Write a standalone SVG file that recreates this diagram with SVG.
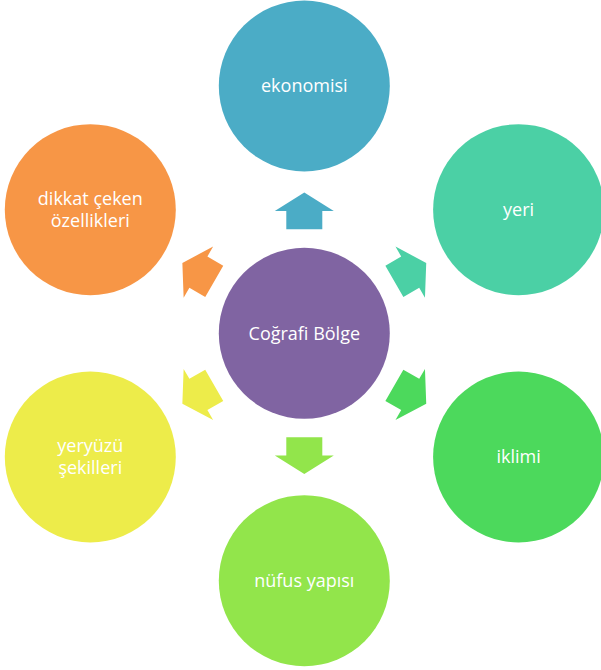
<svg xmlns="http://www.w3.org/2000/svg" width="601" height="670" viewBox="0 0 601 670">
<style>
.lbl{font-family:"Open Sans","Noto Sans","Liberation Sans",sans-serif;font-size:18px;fill:#ffffff;text-anchor:middle}
</style>
<defs>
<path id="arr" d="M -18,-104 L 18,-104 L 18,-122.3 L 29.5,-122.3 L 0,-140.8 L -29.5,-122.3 L -18,-122.3 Z"/>
</defs>
<rect width="601" height="670" fill="#ffffff"/>
<g id="connectors" transform="translate(304.3,333.3)">
<use href="#arr" fill="#4BACC6"/>
<use href="#arr" fill="#4BD0A5" transform="rotate(60)"/>
<use href="#arr" fill="#4CD95C" transform="rotate(120)"/>
<use href="#arr" fill="#92E54B" transform="rotate(180)"/>
<use href="#arr" fill="#EDEC4A" transform="rotate(240)"/>
<use href="#arr" fill="#F79646" transform="rotate(300)"/>
</g>
<g id="center">
<circle cx="304.3" cy="333.3" r="85.5" fill="#8064A2"/>
<text class="lbl" x="304.3" y="339.5">Coğrafi Bölge</text>
</g>
<g id="ekonomisi">
<circle cx="304.3" cy="86" r="85.5" fill="#4BACC6"/>
<text class="lbl" x="304.3" y="92.2">ekonomisi</text>
</g>
<g id="yeri">
<circle cx="518.6" cy="209.7" r="85.5" fill="#4BD0A5"/>
<text class="lbl" x="518.6" y="215.9">yeri</text>
</g>
<g id="iklimi">
<circle cx="518.6" cy="457" r="85.5" fill="#4CD95C"/>
<text class="lbl" x="518.6" y="463.2">iklimi</text>
</g>
<g id="nufus">
<circle cx="304.3" cy="580.7" r="85.5" fill="#92E54B"/>
<text class="lbl" x="304.3" y="586.9">nüfus yapısı</text>
</g>
<g id="yeryuzu">
<circle cx="90.3" cy="457" r="85.5" fill="#EDEC4A"/>
<text class="lbl" x="90.3" y="452.2">yeryüzü</text>
<text class="lbl" x="90.3" y="474.2">şekilleri</text>
</g>
<g id="dikkat">
<circle cx="90.3" cy="209.7" r="85.5" fill="#F79646"/>
<text class="lbl" x="90.3" y="204.9">dikkat çeken</text>
<text class="lbl" x="90.3" y="226.9">özellikleri</text>
</g>
</svg>
